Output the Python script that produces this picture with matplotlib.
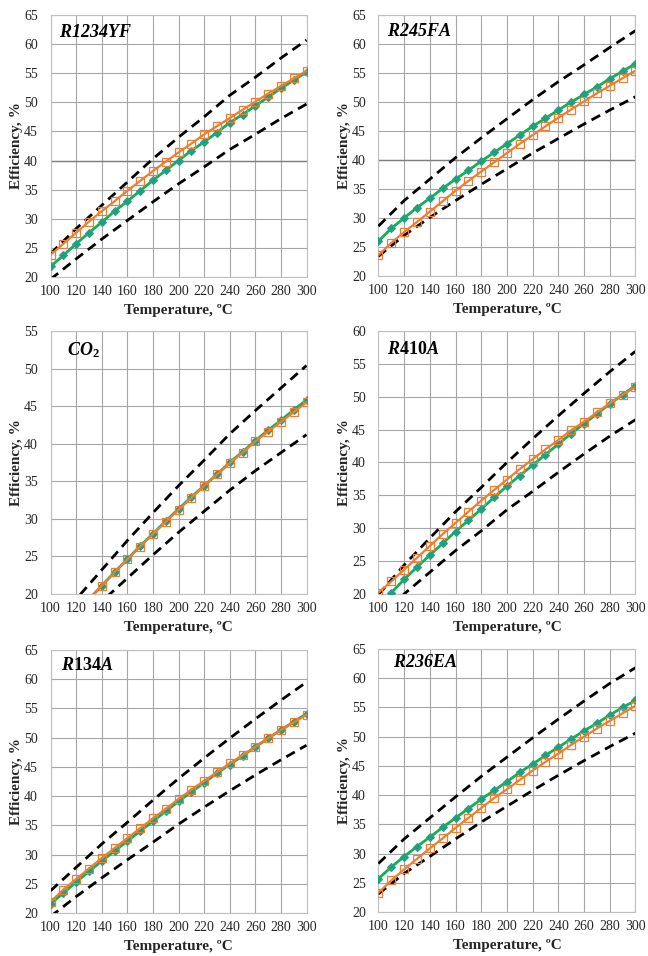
import matplotlib
matplotlib.use("Agg")
import matplotlib.pyplot as plt
import numpy as np

plt.rcParams['font.family'] = ['Liberation Serif', 'DejaVu Serif']
plt.rcParams['mathtext.fontset'] = 'custom'
plt.rcParams['mathtext.bf'] = 'Liberation Serif:bold'
plt.rcParams['mathtext.bfit'] = 'Liberation Serif:bold:italic'
plt.rcParams['mathtext.it'] = 'Liberation Serif:italic'
plt.rcParams['mathtext.rm'] = 'Liberation Serif'

# temperatures, degC
temp = [100, 110, 120, 130, 140, 150, 160, 170, 180, 190, 200,
        210, 220, 230, 240, 250, 260, 270, 280, 290, 300]
temp_band = [100, 120, 140, 160, 180, 200, 220, 240, 260, 280, 300]

names = [r'$\mathbfit{R1234YF}$', r'$\mathbfit{R245FA}$', r'$\mathbfit{CO}_\mathbf{2}$',
         r'$\mathbfit{R}\mathbf{410}\mathbfit{A}$', r'$\mathbfit{R}\mathbf{134}\mathbfit{A}$',
         r'$\mathbfit{R236EA}$']

r1234yf_green = [21.8, 23.7, 25.7, 27.6, 29.4, 31.3, 33.0, 34.8, 36.6, 38.3, 40.0,
                 41.7, 43.2, 44.8, 46.5, 47.9, 49.4, 50.9, 52.4, 53.8, 55.2]
r1234yf_orange = [23.8, 25.7, 27.6, 29.5, 31.3, 33.0, 34.8, 36.5, 38.2, 39.8, 41.4,
                  42.9, 44.5, 45.9, 47.3, 48.7, 50.1, 51.5, 52.8, 54.1, 55.4]
r1234yf_upper = [24.0, 28.3, 32.3, 36.3, 40.3, 44.0, 47.5, 51.2, 54.3, 57.6, 60.7]
r1234yf_lower = [19.6, 23.1, 26.5, 29.7, 32.9, 36.0, 38.9, 41.9, 44.5, 47.2, 49.7]

r245fa_green = [26.0, 28.2, 30.0, 31.8, 33.4, 35.1, 36.7, 38.2, 39.8, 41.3, 42.8,
                44.3, 45.8, 47.2, 48.6, 50.0, 51.3, 52.6, 54.0, 55.3, 56.6]
r245fa_orange = [23.6, 25.7, 27.6, 29.3, 31.1, 32.9, 34.7, 36.4, 38.0, 39.6, 41.2,
                 42.8, 44.3, 45.8, 47.3, 48.7, 50.1, 51.5, 52.8, 54.1, 55.4]
r245fa_upper = [28.6, 33.0, 36.7, 40.4, 43.8, 47.1, 50.4, 53.5, 56.4, 59.4, 62.3]
r245fa_lower = [23.4, 27.0, 30.1, 33.0, 35.8, 38.5, 41.2, 43.7, 46.2, 48.6, 50.9]

co2_green = [13.6, 15.6, 17.5, 19.3, 21.1, 22.9, 24.6, 26.4, 28.0, 29.7, 31.3,
             32.9, 34.4, 35.9, 37.5, 38.9, 40.4, 41.8, 43.1, 44.5, 45.8]
co2_orange = [13.5, 15.5, 17.4, 19.2, 21.1, 22.9, 24.6, 26.3, 28.0, 29.6, 31.2,
              32.8, 34.4, 35.9, 37.4, 38.8, 40.3, 41.6, 42.9, 44.2, 45.5]
co2_upper = [15.0, 19.3, 23.2, 27.1, 30.8, 34.4, 37.8, 41.3, 44.4, 47.4, 50.4]
co2_lower = [12.2, 15.8, 19.0, 22.1, 25.2, 28.2, 31.0, 33.8, 36.4, 38.8, 41.2]

r410a_green = [18.1, 20.2, 22.2, 24.1, 25.9, 27.7, 29.5, 31.2, 32.9, 34.7, 36.4,
               38.0, 39.6, 41.2, 42.8, 44.4, 45.9, 47.4, 48.9, 50.3, 51.7]
r410a_orange = [20.2, 21.9, 23.7, 25.5, 27.3, 29.1, 30.8, 32.5, 34.2, 35.8, 37.4,
                39.0, 40.5, 42.0, 43.4, 44.9, 46.2, 47.6, 49.0, 50.3, 51.5]
r410a_upper = [19.9, 24.4, 28.5, 32.5, 36.2, 40.0, 43.6, 47.1, 50.5, 53.8, 56.9]
r410a_lower = [16.3, 20.0, 23.3, 26.6, 29.6, 32.8, 35.6, 38.5, 41.3, 44.0, 46.5]

r134a_green = [21.6, 23.4, 25.3, 27.1, 28.9, 30.6, 32.3, 34.0, 35.7, 37.4, 39.1,
               40.7, 42.3, 43.9, 45.4, 46.9, 48.4, 49.9, 51.3, 52.7, 54.1]
r134a_orange = [21.9, 24.0, 25.8, 27.6, 29.4, 31.1, 32.8, 34.5, 36.2, 37.8, 39.5,
                41.1, 42.6, 44.1, 45.6, 47.0, 48.4, 49.9, 51.3, 52.6, 53.9]
r134a_upper = [23.8, 27.8, 31.8, 35.5, 39.3, 43.0, 46.5, 49.9, 53.2, 56.4, 59.5]
r134a_lower = [19.4, 22.8, 26.0, 29.1, 32.1, 35.2, 38.1, 40.9, 43.6, 46.2, 48.7]

r236ea_green = [25.7, 27.7, 29.5, 31.2, 32.8, 34.5, 36.1, 37.7, 39.3, 40.8, 42.3,
                43.9, 45.3, 46.8, 48.2, 49.6, 51.0, 52.3, 53.7, 55.0, 56.2]
r236ea_orange = [23.3, 25.4, 27.3, 29.1, 30.9, 32.6, 34.4, 36.1, 37.8, 39.5, 41.0,
                 42.6, 44.2, 45.7, 47.1, 48.6, 50.0, 51.4, 52.7, 54.0, 55.3]
r236ea_upper = [28.3, 32.5, 36.1, 39.7, 43.2, 46.5, 49.8, 53.0, 56.1, 59.1, 61.8]
r236ea_lower = [23.1, 26.6, 29.5, 32.5, 35.4, 38.1, 40.8, 43.4, 45.9, 48.3, 50.6]

ymax = [65, 65, 55, 60, 65, 65]

panels = [
    (r1234yf_green, r1234yf_orange, r1234yf_upper, r1234yf_lower),
    (r245fa_green, r245fa_orange, r245fa_upper, r245fa_lower),
    (co2_green, co2_orange, co2_upper, co2_lower),
    (r410a_green, r410a_orange, r410a_upper, r410a_lower),
    (r134a_green, r134a_orange, r134a_upper, r134a_lower),
    (r236ea_green, r236ea_orange, r236ea_upper, r236ea_lower),
]

# axes boxes in figure fractions (left, bottom, width, height)
boxes = [
    (0.078, 0.7103, 0.395, 0.274), (0.584, 0.7113, 0.3966, 0.273),
    (0.078, 0.3787, 0.395, 0.2751), (0.584, 0.3787, 0.3966, 0.2751),
    (0.078, 0.0450, 0.395, 0.2751), (0.584, 0.0460, 0.3966, 0.2751),
]
title_pos = [(0.033, 0.935), (0.035, 0.935), (0.066, 0.928),
             (0.035, 0.928), (0.039, 0.94), (0.058, 0.947)]

GREEN = '#10b055'
ORANGE = '#ed7d31'
TXT = '#262626'

fig = plt.figure(figsize=(6.48, 9.56), dpi=100)
for i, (g, o, up, lo) in enumerate(panels):
    ax = fig.add_axes(boxes[i])
    ax.plot(temp_band, up, color='black', lw=2, ls=(0, (3.5, 2.2)), zorder=3)
    ax.plot(temp_band, lo, color='black', lw=2, ls=(0, (3.5, 2.2)), zorder=3)
    ax.plot(temp, g, color=GREEN, lw=2.0, marker='D', ms=3.8,
            mfc='#1ca27a', mec='#2e9f8a', mew=0.8, zorder=4)
    ax.plot(temp, o, color=ORANGE, lw=1.6, marker='s', ms=5.4,
            mfc='none', mec=ORANGE, mew=0.9, zorder=5)
    ax.set_xlim(100, 300)
    ax.set_ylim(20, ymax[i])
    ax.set_xticks(np.arange(100, 301, 20))
    ax.set_yticks(np.arange(20, ymax[i] + 1, 5))
    ax.grid(True, color='#a6a6a6', lw=0.8)
    ax.set_axisbelow(True)
    if i < 2:
        ax.axhline(40, color='#7f7f7f', lw=1.0, zorder=1)
    for s in ax.spines.values():
        s.set_color('#bfbfbf')
        s.set_linewidth(0.8)
    ax.tick_params(length=0, labelsize=10, labelcolor=TXT)
    ax.tick_params(axis='y', pad=9)
    ax.tick_params(axis='x', pad=6)
    ax.set_xlabel('Temperature, ºC', fontsize=11, fontweight='bold', color=TXT, labelpad=4)
    ax.set_ylabel('Efficiency, %', fontsize=11, fontweight='bold', color=TXT, labelpad=1)
    tx, ty = title_pos[i]
    ax.text(tx, ty, names[i], transform=ax.transAxes, fontsize=13,
            ha='left', va='center', color='black')

fig.savefig('out.png', dpi=100)
